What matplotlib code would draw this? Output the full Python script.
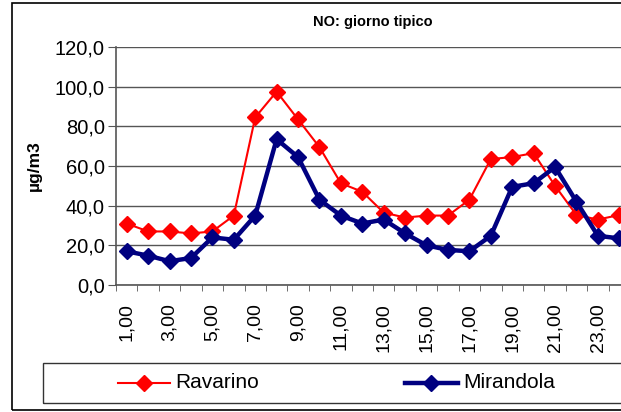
import numpy as np
import matplotlib.pyplot as plt
from matplotlib.patches import Rectangle
from matplotlib.lines import Line2D

plt.rcParams['font.family'] = ['Liberation Sans', 'DejaVu Sans']

hours = list(range(1, 25))
ravarino = [31, 27, 27, 26, 27, 35, 84.5, 97.5, 83.5, 69.5, 51.3, 47, 36.5, 34,
            35, 35, 43, 63.5, 64.5, 66.5, 50, 35.3, 33, 35.3]
mirandola = [17, 14.8, 12, 13.6, 24, 22.8, 35, 73.5, 64.5, 43, 35, 31, 33, 26,
             20, 17.7, 17, 24.8, 49.5, 51.3, 59.5, 42, 24.8, 23.5]
tick_labels = [f"{h},00" for h in hours[::2]]

W, H = 621, 412
fig = plt.figure(figsize=(W / 100, H / 100), dpi=100)
ax = fig.add_axes([116 / W, 1 - 285 / H, (630 - 116) / W, (285 - 47) / H])

ax.plot(hours, ravarino, color='#ff0000', lw=1.5, marker='D', ms=8,
        mec='#ff0000', mfc='#ff0000', clip_on=False, zorder=3)
ax.plot(hours, mirandola, color='#000080', lw=3.2, marker='D', ms=8,
        mec='#000080', mfc='#000080', clip_on=False, zorder=4)

ax.set_xlim(0.5, 24.5)
ax.set_ylim(0, 120)
ax.set_yticks(np.arange(0, 121, 20))
ax.set_yticklabels([f"{v},0" for v in range(0, 121, 20)], fontsize=14.5)
ax.set_xticks(hours[::2])
ax.set_xticklabels(tick_labels, rotation=90, fontsize=14)
ax.set_xticks(np.arange(0.5, 25, 1), minor=True)
ax.tick_params(axis='x', which='major', length=0, pad=13)
ax.tick_params(axis='x', which='minor', length=4, color='#555555')
ax.tick_params(axis='y', length=6, color='#555555', pad=2)
ax.yaxis.grid(True, color='#555555', lw=1)
ax.set_axisbelow(True)
for s in ['top', 'right']:
    ax.spines[s].set_visible(False)
for s in ['left', 'bottom']:
    ax.spines[s].set_color('#555555')
    ax.spines[s].set_linewidth(1.2)

ax.set_ylabel('µg/m3', fontsize=12.5, fontweight='bold')
ax.yaxis.set_label_coords(-0.144, 0.5)
fig.text(373 / W, 1 - 22 / H, 'NO: giorno tipico', ha='center', va='center',
         fontsize=10.5, fontweight='bold')

# outer chart border and legend box
fig.patches.append(Rectangle((12 / W, 1 - 410 / H), 1, (410 - 3) / H,
                             transform=fig.transFigure, fill=False,
                             ec='#000000', lw=1.2))
fig.patches.append(Rectangle((43 / W, 1 - 403 / H), 1, (403 - 363) / H,
                             transform=fig.transFigure, fill=False,
                             ec='#333333', lw=1))

ly = 1 - 383 / H
fig.lines.append(Line2D([118 / W, 170 / W], [ly, ly], color='#ff0000', lw=1.5,
                        transform=fig.transFigure))
fig.lines.append(Line2D([144 / W], [ly], color='#ff0000', marker='D', ms=8,
                        transform=fig.transFigure))
fig.text(175 / W, ly, 'Ravarino', va='center', fontsize=15)
fig.lines.append(Line2D([405 / W, 458 / W], [ly, ly], color='#000080', lw=3.2,
                        transform=fig.transFigure))
fig.lines.append(Line2D([431 / W], [ly], color='#000080', marker='D', ms=8,
                        transform=fig.transFigure))
fig.text(463 / W, ly, 'Mirandola', va='center', fontsize=15)

fig.savefig('out.png', dpi=100)
